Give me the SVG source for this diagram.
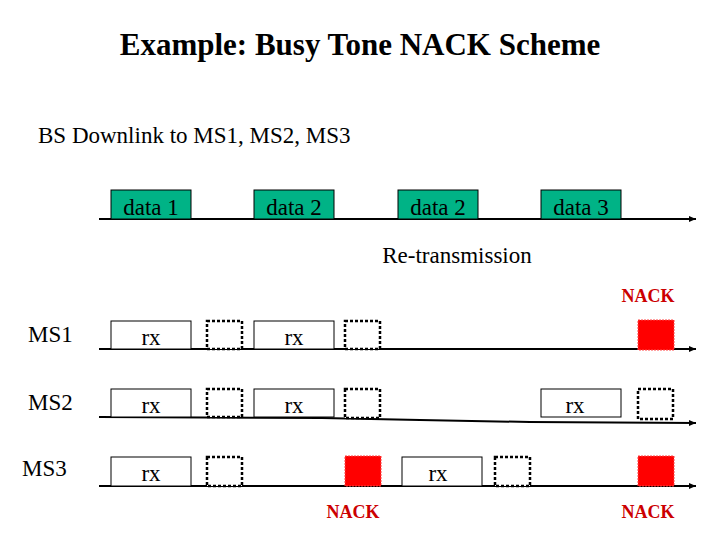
<svg xmlns="http://www.w3.org/2000/svg" width="720" height="540" viewBox="0 0 720 540">
<defs>
<marker id="ar" markerWidth="8" markerHeight="8" refX="7" refY="4" orient="auto" markerUnits="userSpaceOnUse"><path d="M0,1 L7,4 L0,7 Z" fill="#000"/></marker>
<style>
text{font-family:"Liberation Serif",serif;fill:#000}
.d{fill:#00b386;stroke:#000;stroke-width:1}
.r{fill:#fff;stroke:#000;stroke-width:1}
.s{fill:#fff;stroke:#000;stroke-width:2.5;stroke-dasharray:3,2}
.n{fill:#f00;stroke:#f44;stroke-width:1;stroke-dasharray:2,1}
.l{stroke:#000;stroke-width:2;fill:none}
.nk{fill:#c00;font-weight:bold;font-size:18px}
.t{font-size:23px}
</style>
</defs>
<rect width="720" height="540" fill="#fff"/>
<text x="360" y="55" text-anchor="middle" font-size="31" font-weight="bold">Example: Busy Tone NACK Scheme</text>
<text x="38" y="143" class="t" font-size="24">BS Downlink to MS1, MS2, MS3</text>
<g id="connectors">
<line class="l" x1="99" y1="219" x2="696" y2="219" marker-end="url(#ar)"/>
<line class="l" x1="99" y1="349" x2="696" y2="349" marker-end="url(#ar)"/>
<polyline class="l" points="99,417 322,418 420,420 530,422 696,423" marker-end="url(#ar)"/>
<line class="l" x1="99" y1="486" x2="696" y2="486" marker-end="url(#ar)"/>
</g>
<g id="bs">
<rect class="d" x="111" y="190" width="80" height="29"/><text x="151" y="215" text-anchor="middle" class="t">data 1</text>
<rect class="d" x="254" y="190" width="80" height="29"/><text x="294" y="215" text-anchor="middle" class="t">data 2</text>
<rect class="d" x="398" y="190" width="80" height="29"/><text x="438" y="215" text-anchor="middle" class="t">data 2</text>
<rect class="d" x="541" y="190" width="80" height="29"/><text x="581" y="215" text-anchor="middle" class="t">data 3</text>
<text x="457" y="263" text-anchor="middle" class="t">Re-transmission</text>
<text x="648" y="302" text-anchor="middle" class="nk">NACK</text>
</g>
<g id="ms1">
<text x="28" y="342" class="t">MS1</text>
<rect class="r" x="111" y="321" width="80" height="28"/><text x="151" y="345" text-anchor="middle" class="t">rx</text>
<rect class="s" x="207" y="321" width="35" height="28"/>
<rect class="r" x="254" y="321" width="80" height="28"/><text x="294" y="345" text-anchor="middle" class="t">rx</text>
<rect class="s" x="345" y="321" width="35" height="28"/>
<rect class="n" x="638" y="320" width="36" height="30"/>
</g>
<g id="ms2">
<text x="28" y="410" class="t">MS2</text>
<rect class="r" x="111" y="389" width="80" height="28"/><text x="151" y="413" text-anchor="middle" class="t">rx</text>
<rect class="s" x="207" y="389" width="35" height="28"/>
<rect class="r" x="254" y="389" width="80" height="28"/><text x="294" y="413" text-anchor="middle" class="t">rx</text>
<rect class="s" x="345" y="389" width="35" height="29"/>
<rect class="r" x="541" y="389" width="80" height="28"/><text x="575" y="413" text-anchor="middle" class="t">rx</text>
<rect class="s" x="638" y="389" width="35" height="30"/>
</g>
<g id="ms3">
<text x="22" y="476" class="t">MS3</text>
<rect class="r" x="111" y="457" width="80" height="29"/><text x="151" y="481" text-anchor="middle" class="t">rx</text>
<rect class="s" x="207" y="457" width="35" height="29"/>
<rect class="n" x="345" y="456" width="36" height="30"/>
<rect class="r" x="402" y="457" width="80" height="29"/><text x="438" y="481" text-anchor="middle" class="t">rx</text>
<rect class="s" x="495" y="457" width="35" height="29"/>
<rect class="n" x="638" y="456" width="36" height="30"/>
<text x="353" y="518" text-anchor="middle" class="nk">NACK</text>
<text x="648" y="518" text-anchor="middle" class="nk">NACK</text>
</g>
</svg>
